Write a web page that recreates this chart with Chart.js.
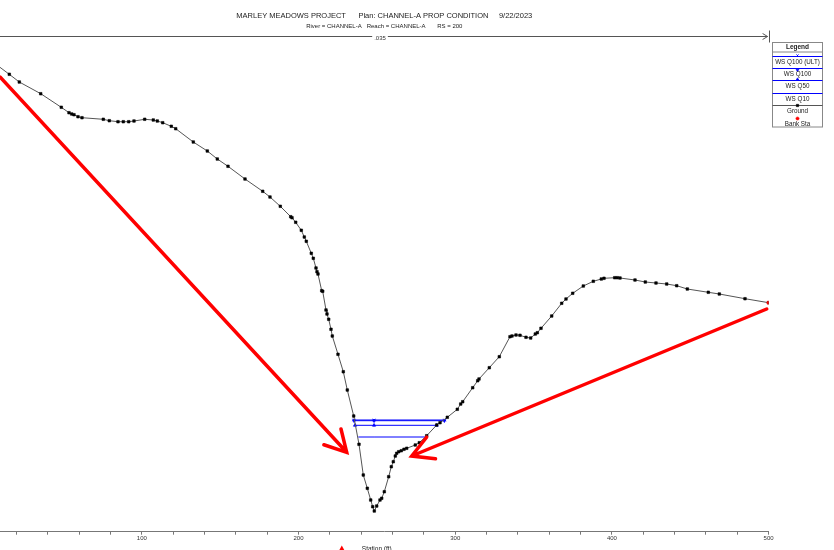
<!DOCTYPE html>
<html>
<head>
<meta charset="utf-8">
<title>Cross Section RS 200</title>
<script src="https://cdn.jsdelivr.net/npm/chart.js@4.4.1/dist/chart.umd.min.js"></script>
<style>
  html, body { margin: 0; padding: 0; background: #fff; }
  #wrap { width: 834px; height: 550px; position: relative; }
</style>
</head>
<body>
<div id="wrap"><canvas id="xs-chart"></canvas></div>
<script>
// Ground profile (station ft, elevation ft)
const groundStations = [4, 15.39, 21.78, 35.44, 48.58, 53.50, 55.22, 56.69, 59.24, 61.79,
  75.39, 79.22, 84.77, 88.15, 91.60, 94.98, 101.81, 107.30, 109.85, 113.30,
  118.79, 121.60, 132.83, 141.77, 148.15, 154.98, 165.83, 177.13, 181.78, 188.36,
  195.00, 195.83, 198.19, 201.76, 203.68, 204.95, 208.14, 209.42, 211.14, 211.78,
  212.42, 214.78, 215.42, 217.53, 218.16, 219.25, 220.72, 221.55, 225.18, 228.57,
  231.12, 235.21, 238.59, 241.33, 243.89, 246.06, 247.33, 248.35, 249.89, 251.99,
  253.08, 254.74, 257.54, 259.20, 260.48, 261.76, 262.65, 263.93, 265.59, 267.31,
  269.03, 274.52, 277.07, 281.80, 288.18, 290.29, 294.94, 301.33, 303.50, 304.77,
  311.15, 314.35, 315.18, 321.75, 328.13, 334.96, 336.24, 338.79, 341.35, 345.18,
  348.17, 351.11, 352.39, 354.75, 361.58, 367.96, 370.70, 374.98, 381.75, 388.13,
  393.24, 394.96, 401.79, 403.45, 405.17, 414.74, 421.32, 428.15, 434.98, 441.36,
  448.13, 461.53, 468.55, 484.95, 500];
const groundElevations = [5367.08, 5365.74, 5364.97, 5363.80, 5362.44, 5361.90, 5361.77, 5361.70, 5361.50, 5361.40,
  5361.24, 5361.10, 5361.00, 5361.00, 5361.00, 5361.07, 5361.24, 5361.17, 5361.07, 5360.90,
  5360.54, 5360.30, 5358.97, 5358.07, 5357.27, 5356.54, 5355.27, 5354.04, 5353.47, 5352.54,
  5351.50, 5351.40, 5350.94, 5350.14, 5349.47, 5349.04, 5347.84, 5347.34, 5346.37, 5346.00,
  5345.77, 5344.10, 5344.04, 5342.17, 5341.77, 5341.24, 5340.24, 5339.57, 5337.74, 5336.00,
  5334.17, 5331.57, 5328.74, 5325.67, 5324.34, 5323.17, 5322.50, 5322.07, 5322.57, 5323.17,
  5323.34, 5324.00, 5325.50, 5326.50, 5327.00, 5327.57, 5327.84, 5328.00, 5328.10, 5328.24,
  5328.34, 5328.67, 5328.90, 5329.60, 5330.67, 5330.90, 5331.44, 5332.24, 5332.77, 5333.00,
  5334.40, 5335.10, 5335.27, 5336.40, 5337.50, 5339.50, 5339.57, 5339.67, 5339.64, 5339.44,
  5339.37, 5339.77, 5339.90, 5340.34, 5341.57, 5342.84, 5343.27, 5343.84, 5344.57, 5345.04,
  5345.27, 5345.34, 5345.40, 5345.40, 5345.37, 5345.17, 5344.97, 5344.87, 5344.77, 5344.60,
  5344.27, 5343.94, 5343.77, 5343.30, 5342.90];

// Bank stations
const bankStations = [4, 500];

// Water surface profiles
const wsNames = ['WS Q100 (ULT)', 'WS Q100', 'WS Q50', 'WS Q10'];
const wsElevations = [5331.17, 5331.10, 5330.64, 5329.47];
const wsLeftStations = [235.3, 235.4, 236.05, 238.15];
const wsRightStations = [293.3, 293.1, 288.18, 281.67];
const wsMidStation = 248.2;

// Manning's n
const nValues = ['.035'];
const nStations = [4, 500];
const nElevation = 5369.62;

// Axis
const stationMin = 9.46;
const stationMax = 500;
const elevMin = 5320;
const elevMax = 5370;
const tickLabels = ['100', '200', '300', '400', '500'];
const xTitle = 'Station (ft)';

// Red call-out arrows (tail -> tip, station/elevation)
const arrowTails = [[9.46, 5365.47], [498.8, 5342.27]];
const arrowTips = [[230.74, 5327.94], [272.22, 5327.57]];

const FONT = 'Liberation Sans, Arial, sans-serif';
const BLUE = '#0000ff';

function toPoints(xs, ys) {
  return xs.map((v, i) => ({ x: v, y: ys[i] }));
}

const wsStyles = [
  { pointStyle: 'crossRot', rotation: 0, radius: 1.8 },
  { pointStyle: 'triangle', rotation: 180, radius: 1.8 },
  { pointStyle: 'triangle', rotation: 0, radius: 1.8 },
  { pointStyle: false, rotation: 0, radius: 0 }
];

const wsDatasets = wsNames.map((name, i) => ({
  label: name,
  data: [
    { x: wsLeftStations[i], y: wsElevations[i] },
    { x: wsMidStation, y: wsElevations[i] },
    { x: wsRightStations[i], y: wsElevations[i] }
  ],
  borderColor: BLUE,
  backgroundColor: BLUE,
  borderWidth: 1,
  pointStyle: wsStyles[i].pointStyle,
  pointRotation: wsStyles[i].rotation,
  pointRadius: wsStyles[i].radius,
  pointBorderWidth: 0.8,
  order: 3 + i
}));

const bankElevations = bankStations.map(s => groundElevations[groundStations.indexOf(s)]);

const datasets = [
  {
    label: 'Ground',
    data: toPoints(groundStations, groundElevations),
    borderColor: '#555555',
    backgroundColor: '#000000',
    borderWidth: 1,
    pointStyle: 'rect',
    pointRadius: 1.8,
    pointBorderColor: '#000000',
    pointBorderWidth: 0.6,
    order: 1
  },
  {
    label: 'Bank Sta',
    data: toPoints(bankStations, bankElevations),
    showLine: false,
    borderColor: '#ff0000',
    backgroundColor: '#ff0000',
    pointStyle: 'circle',
    pointRadius: 1.8,
    pointBorderWidth: 0.5,
    order: 0
  }
].concat(wsDatasets);

// n-value line, call-out arrows, axis title and boxed legend
const decorations = {
  id: 'decorations',
  afterDatasetsDraw(chart) {
    const { ctx, scales: { x, y } } = chart;
    ctx.save();

    // Manning's n line across the top
    const ny = Math.round(y.getPixelForValue(nElevation)) + 0.5;
    const nx1 = x.getPixelForValue(nStations[0]);
    const nx2 = x.getPixelForValue(nStations[1]);
    ctx.strokeStyle = '#555';
    ctx.fillStyle = '#555';
    ctx.lineWidth = 1;
    ctx.beginPath();
    ctx.moveTo(nx1, ny);
    ctx.lineTo(nx2 - 1, ny);
    ctx.stroke();
    [nx1, nx2].forEach((px, k) => {
      const dir = k === 0 ? -1 : 1;
      ctx.beginPath();
      ctx.moveTo(px - dir, ny);
      ctx.lineTo(px - dir * 6, ny - 3);
      ctx.moveTo(px - dir, ny);
      ctx.lineTo(px - dir * 6, ny + 3);
      ctx.stroke();
      ctx.beginPath();
      ctx.moveTo(Math.round(px) + 0.5, ny - 6);
      ctx.lineTo(Math.round(px) + 0.5, ny + 6);
      ctx.stroke();
    });
    ctx.font = '6px ' + FONT;
    const label = nValues[0];
    const lw = ctx.measureText(label).width;
    const lx = (nx1 + nx2) / 2;
    ctx.fillStyle = '#fff';
    ctx.fillRect(lx - lw / 2 - 2, ny - 3, lw + 4, 7);
    ctx.fillStyle = '#333';
    ctx.textAlign = 'center';
    ctx.textBaseline = 'middle';
    ctx.fillText(label, lx, ny + 2);

    // red call-out arrows
    ctx.strokeStyle = '#ff0000';
    ctx.lineWidth = 3.5;
    ctx.lineCap = 'round';
    arrowTails.forEach((t, i) => {
      const x0 = x.getPixelForValue(t[0]), y0 = y.getPixelForValue(t[1]);
      const x1 = x.getPixelForValue(arrowTips[i][0]), y1 = y.getPixelForValue(arrowTips[i][1]);
      const ang = Math.atan2(y1 - y0, x1 - x0);
      const head = 24, spread = 29 * Math.PI / 180;
      ctx.beginPath();
      ctx.moveTo(x0, y0);
      ctx.lineTo(x1, y1);
      ctx.moveTo(x1 - head * Math.cos(ang - spread), y1 - head * Math.sin(ang - spread));
      ctx.lineTo(x1, y1);
      ctx.lineTo(x1 - head * Math.cos(ang + spread), y1 - head * Math.sin(ang + spread));
      ctx.stroke();
    });
    ctx.restore();
  },
  afterDraw(chart) {
    const { ctx, chartArea } = chart;
    ctx.save();

    // axis title (cut by the bottom edge) with small red marker before it
    const tcx = (chartArea.left + chartArea.right) / 2 - 7.5;
    ctx.font = '6.5px ' + FONT;
    ctx.fillStyle = '#222';
    ctx.textAlign = 'center';
    ctx.textBaseline = 'middle';
    ctx.fillText(xTitle, tcx, 549.5);
    const tw = ctx.measureText(xTitle).width;
    const tx = tcx - tw / 2 - 20;
    ctx.fillStyle = '#ff0000';
    ctx.beginPath();
    ctx.moveTo(tx, 545.5);
    ctx.lineTo(tx + 3, 551);
    ctx.lineTo(tx - 3, 551);
    ctx.closePath();
    ctx.fill();

    // boxed legend
    const left = Math.round(chartArea.right) + 3.5;
    const top = 42.5;
    const w = 50, h = 84.5;
    const cx = left + w / 2;
    ctx.strokeStyle = '#888';
    ctx.lineWidth = 1;
    ctx.strokeRect(left, top, w, h);
    ctx.beginPath();
    ctx.moveTo(left, top + 9.5);
    ctx.lineTo(left + w, top + 9.5);
    ctx.stroke();
    ctx.fillStyle = '#222';
    ctx.font = 'bold 6.5px ' + FONT;
    ctx.fillText('Legend', cx, top + 4.5);

    const order = ['WS Q100 (ULT)', 'WS Q100', 'WS Q50', 'WS Q10', 'Ground', 'Bank Sta'];
    const markerShift = [-1, 1.5, -1, 0, 0, 0];
    ctx.font = '6.3px ' + FONT;
    order.forEach((name, i) => {
      const ds = chart.data.datasets.find(d => d.label === name);
      const sy = top + 13 + i * 12.4;
      if (ds.showLine !== false) {
        ctx.strokeStyle = ds.borderColor;
        ctx.lineWidth = 1;
        ctx.beginPath();
        ctx.moveTo(left, Math.round(sy) + 0.5);
        ctx.lineTo(left + w, Math.round(sy) + 0.5);
        ctx.stroke();
      }
      if (ds.pointStyle) {
        ctx.fillStyle = ds.backgroundColor;
        ctx.strokeStyle = ds.pointBorderColor || ds.borderColor;
        ctx.lineWidth = ds.pointBorderWidth;
        Chart.helpers.drawPoint(ctx, {
          pointStyle: ds.pointStyle,
          rotation: ds.pointRotation || 0,
          radius: ds.pointRadius * 0.9,
          borderWidth: ds.pointBorderWidth
        }, cx, Math.round(sy) + 0.5 + markerShift[i]);
      }
      ctx.fillStyle = '#222';
      ctx.fillText(name, cx, sy + 6.4);
    });
    ctx.restore();
  }
};

const ctx = document.getElementById('xs-chart').getContext('2d');
const chart = new Chart(ctx, {
  type: 'line',
  data: { datasets: datasets },
  plugins: [decorations],
  options: {
    responsive: true,
    maintainAspectRatio: false,
    animation: false,
    devicePixelRatio: 1,
    layout: { autoPadding: false, padding: { left: 0, right: 834 - 768.58, top: 0, bottom: 0 } },
    plugins: {
      legend: { display: false },
      tooltip: { enabled: false },
      title: {
        display: true,
        fullSize: false,
        text: 'MARLEY MEADOWS PROJECT      Plan: CHANNEL-A PROP CONDITION     9/22/2023',
        color: '#222',
        font: { family: FONT, size: 7.5, weight: 'normal', lineHeight: 1.2 },
        padding: { top: 11.5, bottom: 0 }
      },
      subtitle: {
        display: true,
        fullSize: false,
        text: 'River = CHANNEL-A   Reach = CHANNEL-A       RS = 200',
        color: '#222',
        font: { family: FONT, size: 6, lineHeight: 1.2 },
        padding: { top: 2.3, bottom: 1.7 }
      }
    },
    scales: {
      x: {
        type: 'linear',
        min: stationMin,
        max: stationMax,
        afterFit: s => {
          s.height = 18.3;
          s.paddingLeft = 0;
          s.paddingRight = 0;
        },
        border: { display: true, color: '#777', width: 1 },
        grid: { display: true, drawOnChartArea: false, drawTicks: true, tickLength: 3, color: '#777' },
        ticks: {
          stepSize: 20,
          maxTicksLimit: 40,
          includeBounds: false,
          autoSkip: false,
          maxRotation: 0,
          padding: 0,
          color: '#333',
          font: { family: FONT, size: 6 },
          callback: v => {
            const s = String(Math.round(v));
            return tickLabels.includes(s) ? s : '';
          }
        }
      },
      y: {
        type: 'linear',
        display: false,
        min: elevMin,
        max: elevMax
      }
    }
  }
});
</script>
</body>
</html>
